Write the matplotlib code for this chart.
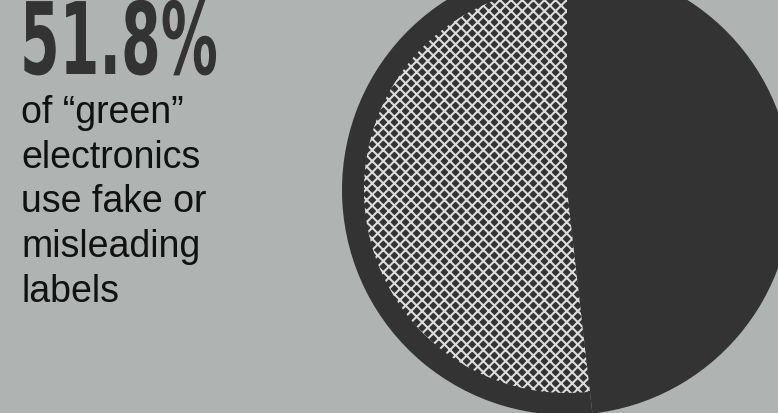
import matplotlib
matplotlib.use("Agg")
import matplotlib.pyplot as plt
from matplotlib.patheffects import AbstractPathEffect
from matplotlib.transforms import Affine2D

# data
share_labels = ["fake or misleading", "other"]
share_values = [51.8, 48.2]
headline = "51.8%"
caption_lines = ["of \u201cgreen\u201d", "electronics", "use fake or", "misleading", "labels"]

BG = "#afb4b3"
DARK = "#333333"
HATCH = "#dcdcdc"

W, H = 778, 414
fig = plt.figure(figsize=(W / 100, H / 100), dpi=100, facecolor=BG)
ax = fig.add_axes([0, 0, 1, 1])
ax.set_facecolor("none")

cx, cy = 567, H - 191
plt.rcParams["hatch.linewidth"] = 1.5

# dark full disc
ax.pie(share_values, radius=225, center=(cx, cy), colors=[DARK, DARK],
       startangle=90, counterclock=True, wedgeprops=dict(linewidth=0))
# hatched slice, inset
wedges, _ = ax.pie(share_values, radius=203, center=(cx, cy), colors=[DARK, "none"],
                   startangle=90, counterclock=True, hatch=["xxx", ""],
                   wedgeprops=dict(linewidth=0))
wedges[0].set_edgecolor(HATCH)
wedges[1].set_visible(False)

ax.set_xlim(0, W)
ax.set_ylim(0, H)
ax.set_aspect("equal")
ax.axis("off")


class Squeeze(AbstractPathEffect):
    # squeeze glyphs horizontally around x0 (pixels) -> condensed look
    def __init__(self, sx, x0):
        super().__init__()
        self.sx = sx
        self.x0 = x0

    def draw_path(self, renderer, gc, tpath, affine, rgbFace=None):
        aff = affine + Affine2D().translate(-self.x0, 0).scale(self.sx, 1).translate(self.x0, 0)
        renderer.draw_path(gc, tpath, aff, rgbFace)


big = fig.text(20 / W, 1 - 75 / H, headline, fontsize=72, color=DARK,
               family="DejaVu Sans", weight="bold", ha="left", va="baseline")

for i, line in enumerate(caption_lines):
    fig.text(21 / W, 1 - (123 + i * 44.7) / H, line, fontsize=27, color="#111111",
             family=["Liberation Sans", "DejaVu Sans"], ha="left", va="baseline")

fig.canvas.draw()
bb = big.get_window_extent()
big.set_path_effects([Squeeze(198 / bb.width, bb.x0)])

fig.savefig("out.png", dpi=100, facecolor=BG)
